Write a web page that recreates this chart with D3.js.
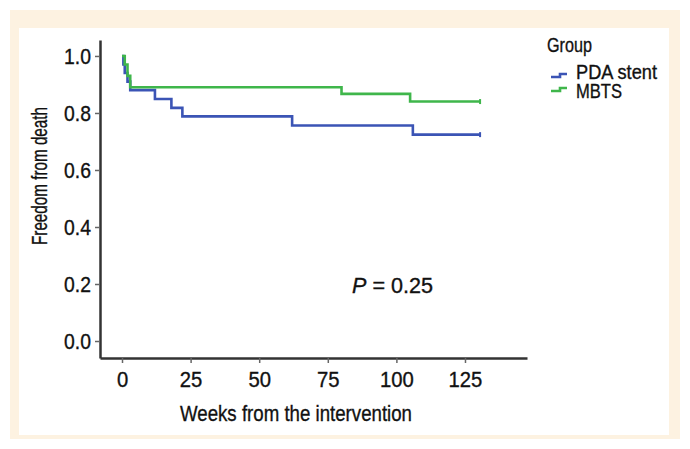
<!DOCTYPE html>
<html>
<head>
<meta charset="utf-8">
<script src="https://cdn.jsdelivr.net/npm/d3@7"></script>
<style>
  body { margin: 0; background: #fff; }
  text { font-family: "Liberation Sans", Arial, sans-serif; fill: #111; stroke: #111; stroke-width: 0.35px; }
</style>
</head>
<body>
<svg id="km" width="690" height="449"></svg>
<script>
// Kaplan-Meier steps
const groups = ["PDA stent", "MBTS"]
const pdaTimes = [0, 0.5, 1, 2, 3, 12, 18, 22, 62, 106]
const pdaSurv  = [1.0, 0.97, 0.94, 0.91, 0.88, 0.849, 0.818, 0.788, 0.756, 0.724]
const mbtsTimes = [0, 1, 2, 3, 80, 105]
const mbtsSurv  = [1.0, 0.97, 0.93, 0.89, 0.867, 0.84]
const lastFollowUp = [130.5, 130.5]
const xTicks = [0, 25, 50, 75, 100, 125]
const yTicks = [0, 0.2, 0.4, 0.6, 0.8, 1.0]
const colors = ["#3b54b5", "#3fb64b"]

var svg = d3.select("#km")

// squeeze text horizontally to mimic the condensed face
function squeeze(sel, k) {
  sel.each(function() {
    var len = this.getComputedTextLength()
    d3.select(this).attr("textLength", len * k).attr("lengthAdjust", "spacingAndGlyphs")
  })
}

// beige frame + white panel
svg.append("rect").attr("x", 10).attr("y", 10).attr("width", 670).attr("height", 429).attr("fill", "#fdf2e1")
svg.append("rect").attr("x", 19).attr("y", 28).attr("width", 650).attr("height", 407).attr("fill", "#fff")

var x = d3.scaleLinear().domain([-8.02, 147.6]).range([100, 527])
var y = d3.scaleLinear().domain([-0.0596, 1.056]).range([358, 40])

var xAxis = svg.append("g")
  .attr("transform", "translate(0,358)")
  .call(d3.axisBottom(x).tickValues(xTicks).tickSize(5).tickSizeOuter(0).tickPadding(8).tickFormat(d3.format("d")))
xAxis.select(".domain").attr("stroke", "#333").attr("stroke-width", 2.5)
xAxis.selectAll(".tick line").attr("stroke", "#666").attr("stroke-width", 1.5)
xAxis.selectAll(".tick text").attr("font-size", 22.5).attr("font-family", null).attr("fill", null)
squeeze(xAxis.selectAll(".tick text"), 0.9)

var yAxis = svg.append("g")
  .attr("transform", "translate(100,0)")
  .call(d3.axisLeft(y).tickValues(yTicks).tickSize(5).tickSizeOuter(0).tickPadding(4).tickFormat(d3.format(".1f")))
yAxis.select(".domain").attr("stroke", "#333").attr("stroke-width", 2.5)
yAxis.selectAll(".tick line").attr("stroke", "#666").attr("stroke-width", 1.5)
yAxis.selectAll(".tick text").attr("font-size", 22.5).attr("font-family", null).attr("fill", null)
squeeze(yAxis.selectAll(".tick text"), 0.86)

// axis titles
svg.append("text").attr("x", 296).attr("y", 421).attr("text-anchor", "middle")
  .attr("font-size", 22.5).attr("textLength", 232).attr("lengthAdjust", "spacingAndGlyphs")
  .text("Weeks from the intervention")
svg.append("text").attr("transform", "translate(47,176) rotate(-90)").attr("text-anchor", "middle")
  .attr("font-size", 22).attr("textLength", 138).attr("lengthAdjust", "spacingAndGlyphs")
  .text("Freedom from death")

// curves
var series = [
  {times: pdaTimes, surv: pdaSurv, end: lastFollowUp[0]},
  {times: mbtsTimes, surv: mbtsSurv, end: lastFollowUp[1]}
]
var line = d3.line().x(d => x(d[0])).y(d => y(d[1])).curve(d3.curveStepAfter)

series.forEach((s, i) => {
  var pts = s.times.map((t, j) => [t, s.surv[j]])
  pts.push([s.end, s.surv[s.surv.length - 1]])
  svg.append("path").datum(pts)
    .attr("d", line)
    .attr("fill", "none")
    .attr("stroke", colors[i])
    .attr("stroke-width", 2.6)
  // censor mark at last follow-up
  var last = pts[pts.length - 1]
  svg.append("line")
    .attr("x1", x(last[0])).attr("x2", x(last[0]))
    .attr("y1", y(last[1]) - 2.5).attr("y2", y(last[1]) + 2.5)
    .attr("stroke", colors[i]).attr("stroke-width", 2)
})

// p value
var p = svg.append("text").attr("x", 352).attr("y", 293).attr("font-size", 22)
  .attr("textLength", 81).attr("lengthAdjust", "spacingAndGlyphs")
p.append("tspan").attr("font-style", "italic").text("P")
p.append("tspan").text(" = 0.25")

// legend
svg.append("text").attr("x", 547).attr("y", 52).attr("font-size", 21)
  .attr("textLength", 45).attr("lengthAdjust", "spacingAndGlyphs").text("Group")
var leg = svg.selectAll(".leg").data(groups).enter().append("g")
  .attr("class", "leg")
  .attr("transform", (d, i) => "translate(551," + (75 + i * 14) + ")")
leg.append("path")
  .attr("d", "M0,2 H9 V-1 H16")
  .attr("fill", "none")
  .attr("stroke", (d, i) => colors[i])
  .attr("stroke-width", 2.6)
leg.append("text").attr("x", 25).attr("y", (d, i) => [4, 9][i]).attr("font-size", 20)
  .attr("textLength", (d, i) => [81, 46][i]).attr("lengthAdjust", "spacingAndGlyphs")
  .text(d => d)
</script>
</body>
</html>
